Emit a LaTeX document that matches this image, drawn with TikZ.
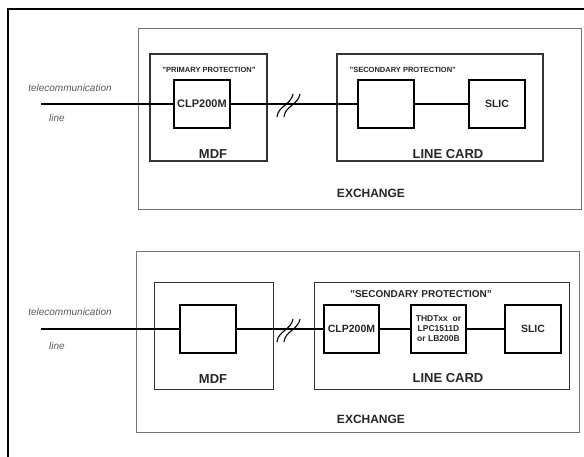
\documentclass[tikz,border=0pt]{standalone}
\usepackage{fontspec}
\setmainfont{Liberation Sans}
\usepackage{tikz}
\usetikzlibrary{positioning}

\begin{document}
\begin{tikzpicture}[x=1pt, y=-1pt, every edge/.style={draw,solid,line width=1.2pt},
                    exch/.style={draw=black!55, line width=0.8pt, inner sep=0pt, minimum width=443pt, minimum height=181pt},
                    unit/.style={draw=black!80, line width=1pt, inner sep=0pt},
                    part/.style={draw=black, line width=1.3pt, inner sep=0pt, minimum width=56pt, minimum height=48pt,
                                 font=\fontsize{11}{12}\selectfont\bfseries, text=black!85},
                    big/.style={font=\fontsize{13}{14}\selectfont\bfseries, text=black!85},
                    tag/.style={font=\fontsize{7.5}{8}\selectfont\bfseries, text=black!85},
                    wire/.style={font=\fontsize{10}{11}\selectfont\itshape, text=black!65}]

\useasboundingbox (0,0) rectangle (584,457);
\draw[line width=2pt] (8,457) -- (8,9) -- (584,9);

\node[exch] (exch1) at (359.5,118.5) {};
\node[unit, line width=1.2pt, minimum width=117pt, minimum height=107pt] (mdf1) at (208.5,107.5) {};
\node[unit, line width=1.2pt, minimum width=206pt, minimum height=107pt] (card1) at (440,107.5) {};
\node[part] (clp1) at (202,104) {CLP200M};
\node[part] (sec1) at (386,104) {};
\node[part, font=\fontsize{10.5}{11}\selectfont\bfseries] (slic1) at (497,104) {SLIC};
\coordinate (in1) at (41,104);

\node[tag] (prim1) at (209,70) {"PRIMARY PROTECTION"};
\node[tag, anchor=west] (sect1) at (346,70) {"SECONDARY PROTECTION"};
\node[big] (mdft1) at (213,154) {MDF};
\node[big] (cardt1) at (448,154) {LINE CARD};
\node[big, font=\fontsize{12}{13}\selectfont\bfseries] (excht1) at (371,193) {EXCHANGE};
\node[wire] (tel1) at (70,88) {telecommunication};
\node[wire] (lin1) at (57,118) {line};

\node[exch] (exch2) at (357.5,341.5) {};
\node[unit, minimum width=119pt, minimum height=106pt] (mdf2) at (213.5,336) {};
\node[unit, minimum width=255pt, minimum height=106pt] (card2) at (441.5,336) {};
\node[part] (box2) at (208,329) {};
\node[part, minimum width=55pt, font=\fontsize{10.5}{11}\selectfont\bfseries] (clp2) at (351.5,329) {CLP200M};
\node[part, minimum width=55pt, align=center, font=\fontsize{8.5}{10}\selectfont\bfseries] (thd2) at (438.5,329)
     {THDTxx~~or\\LPC1511D\\or LB200B};
\node[part, font=\fontsize{10.5}{11}\selectfont\bfseries] (slic2) at (533,329) {SLIC};
\coordinate (in2) at (41,329);

\node[tag, font=\fontsize{10}{11}\selectfont\bfseries] (sect2) at (421,294) {"SECONDARY PROTECTION"};
\node[big] (mdft2) at (213,379) {MDF};
\node[big] (cardt2) at (448,378) {LINE CARD};
\node[big, font=\fontsize{12}{13}\selectfont\bfseries] (excht2) at (371,419) {EXCHANGE};
\node[wire] (tel2) at (70,312) {telecommunication};
\node[wire] (lin2) at (57,346) {line};

\path
(in1) edge (clp1)
(clp1) edge (sec1)
(sec1) edge (slic1)
(in2) edge (box2)
(box2) edge (clp2)
(clp2) edge (thd2)
(thd2) edge (slic2);

\draw[line width=1.1pt] (277,117) .. controls (278,106) and (291,105) .. (293,94);
\draw[line width=1.1pt] (284,117) .. controls (285,106) and (298,105) .. (300,94);
\draw[line width=1.1pt] (277,342) .. controls (278,331) and (291,330) .. (293,319);
\draw[line width=1.1pt] (284,342) .. controls (285,331) and (298,330) .. (300,319);
\end{tikzpicture}
\end{document}
